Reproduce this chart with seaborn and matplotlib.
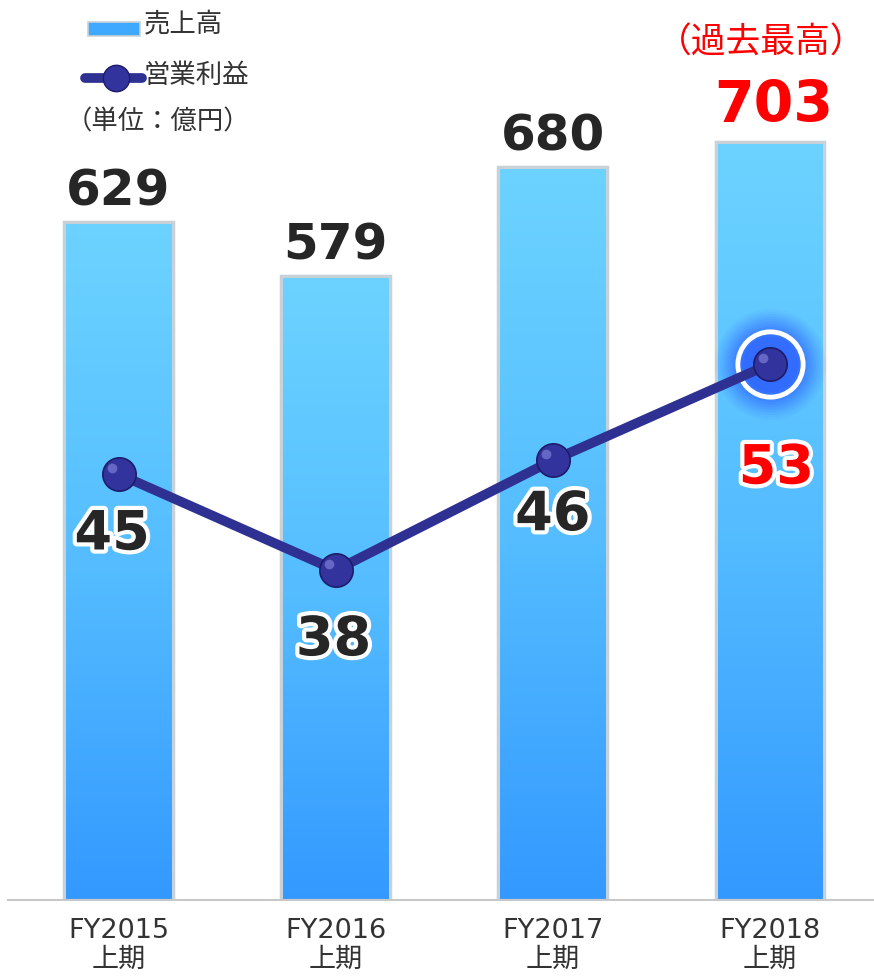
import numpy as np
import pandas as pd
import matplotlib
matplotlib.use('Agg')
import matplotlib.pyplot as plt
import matplotlib.patheffects as pe
from matplotlib.colors import LinearSegmentedColormap
from matplotlib.lines import Line2D
from matplotlib.patches import Rectangle
import seaborn as sns

# data
periods = ['FY2015\n上期', 'FY2016\n上期', 'FY2017\n上期', 'FY2018\n上期']
sales = [629, 579, 680, 703]
profit = [45, 38, 46, 53]

df = pd.DataFrame({'period': periods, 'sales': sales, 'profit': profit})

sns.set_style('white')
plt.rcParams['font.family'] = ['DejaVu Sans', 'Noto Sans CJK JP']

fig = plt.figure(figsize=(8.74, 9.8), dpi=100)
ax = fig.add_axes([0.009, 80 / 980, 0.991, 900 / 980])

sns.barplot(data=df, x='period', y='sales', width=0.5, color='#4fb6ff',
            edgecolor='#c9d1d8', linewidth=2.5, ax=ax, zorder=2)

# vertical gradient on each bar
grad_cmap = LinearSegmentedColormap.from_list('bar', ['#3399ff', '#55bdff', '#6cd3ff'])
grad = np.linspace(0, 1, 256).reshape(-1, 1)
for p in ax.patches:
    x0, y0 = p.get_x(), p.get_y()
    w, h = p.get_width(), p.get_height()
    im = ax.imshow(grad, cmap=grad_cmap, aspect='auto', origin='lower',
                   extent=[x0, x0 + w, y0, y0 + h], zorder=2.1)
    im.set_clip_path(p)
    ax.add_patch(Rectangle((x0, y0), w, h, fill=False, edgecolor='#c9d1d8',
                           linewidth=2.2, zorder=2.2))

ax.set_xlim(-0.51, 3.48)
ax.set_ylim(0, 835)
ax.set_xlabel('')
ax.set_ylabel('')
ax.set_yticks([])
for s in ['top', 'left', 'right']:
    ax.spines[s].set_visible(False)
ax.spines['bottom'].set_color('#c8c8c8')
ax.spines['bottom'].set_linewidth(1.5)
ax.tick_params(axis='x', length=0, pad=13, labelsize=19.5, labelcolor='#333333')
for lbl in ax.get_xticklabels():
    lbl.set_linespacing(1.12)

glow = [pe.withStroke(linewidth=6, foreground='white')]

# sales labels
for i, v in enumerate(sales):
    red = i == len(sales) - 1
    ax.text(i + (0.02 if red else 0), v + (8 if red else 6), str(v), ha='center',
            va='bottom', fontsize=41 if red else 36, fontweight='bold',
            color='#ff0000' if red else '#262626', zorder=5)
ax.text(2.96, 835 - 40, '（過去最高）', ha='center', va='center', fontsize=25,
        color='#ff0000', family=['Noto Sans CJK JP'], zorder=5)

# operating profit on secondary axis
ax2 = ax.twinx()
ax2.set_ylim(14.0, 79.5)
ax2.set_yticks([])
for s in ax2.spines.values():
    s.set_visible(False)

xs = np.arange(len(profit))
# glow behind the highlighted point
for r, a in zip(np.linspace(80, 40, 12), np.linspace(0.04, 0.12, 12)):
    ax2.plot(xs[-1], profit[-1], 'o', ms=r, color='#1f3fff', alpha=a, mec='none', zorder=3)
ax2.plot(xs[-1], profit[-1], 'o', ms=47, mfc='none', mec='white', mew=3.5, zorder=3.5)

sns.lineplot(x=xs, y=profit, ax=ax2, color='#2e3192', linewidth=7, zorder=4)
ax2.plot(xs, profit, 'o', ms=24, color='#33339e', mec='#1c1c6a', mew=1.2, zorder=5)
ax2.plot(xs - 0.03, np.array(profit) + 0.45, 'o', ms=7, color='#7c7cd6', mec='none',
         alpha=0.7, zorder=6)

offsets = [(-0.03, -4.4), (-0.01, -5.1), (0.0, -4.0), (0.03, -7.6)]
for i, v in enumerate(profit):
    red = i == len(profit) - 1
    dx, dy = offsets[i]
    ax2.text(xs[i] + dx, v + dy, str(v), ha='center', va='center', fontsize=39,
             fontweight='bold', color='#ff0000' if red else '#262626',
             path_effects=glow, zorder=7)

# legend drawn by hand (top left)
fx = fig.transFigure
fig.patches.append(Rectangle((88 / 874, 1 - 36 / 980), 52 / 874, 14 / 980, transform=fx,
                             facecolor='#3fa9ff', edgecolor='#c9d1d8', linewidth=1.2))
fig.text(144 / 874, 1 - 24 / 980, '売上高', fontsize=19, color='#333333', va='center',
         family=['Noto Sans CJK JP'])
fig.lines.append(Line2D([85 / 874, 142 / 874], [1 - 78 / 980, 1 - 78 / 980], transform=fx,
                        color='#2e3192', linewidth=7, solid_capstyle='round'))
fig.lines.append(Line2D([116 / 874], [1 - 78 / 980], transform=fx, marker='o', ms=19,
                        color='#33339e', mec='#1c1c6a'))
fig.text(144 / 874, 1 - 75 / 980, '営業利益', fontsize=19, color='#333333', va='center',
         family=['Noto Sans CJK JP'])
fig.text(66 / 874, 1 - 122 / 980, '（単位：億円）', fontsize=19, color='#333333', va='center',
         family=['Noto Sans CJK JP'])

fig.savefig('out.png', dpi=100, facecolor='white')
